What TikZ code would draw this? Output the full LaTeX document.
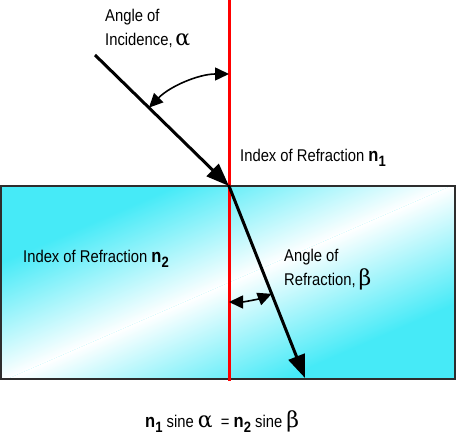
\documentclass[tikz,border=0pt]{standalone}
\usepackage{fontspec}
\setmainfont{Liberation Sans}[FakeStretch=0.87]
\newfontfamily\grk{DejaVu Serif}
\usetikzlibrary{arrows.meta}
\definecolor{glass}{RGB}{70,234,247}
\definecolor{edge}{RGB}{45,45,45}
\newcommand\myn[1]{{\bfseries\fontsize{19}{19}\selectfont n\raisebox{-4.5pt}{\fontsize{15}{15}\selectfont #1}}}
\newcommand\gk[1]{{\grk\fontsize{22}{22}\selectfont #1}}
\tikzset{
  lbl/.style={anchor=base west, inner sep=0pt, font=\fontsize{17}{17}\selectfont},
  ray/.style={line width=3pt, -{Triangle[length=23pt,width=17pt]}},
  angarrow/.style={line width=1.6pt, {Triangle[length=14pt,width=13pt]}-{Triangle[length=14pt,width=13pt]}},
  normline/.style={line width=3pt, draw=red}
}
\begin{document}
\begin{tikzpicture}[x=1pt,y=1pt]
\useasboundingbox (0,0) rectangle (456,439);
% glass block
\fill[glass] (1,60) rectangle (455,253);
\begin{scope}
  \clip (1,60) rectangle (455,253);
  \begin{scope}[transform canvas={rotate around={23.5:(228,156)}}]
    \shade[top color=glass, bottom color=white] (-300,156) rectangle (760,266);
    \shade[top color=white, bottom color=glass] (-300,46) rectangle (760,156);
  \end{scope}
\end{scope}
\draw[edge, line width=1.5pt] (1,60) rectangle (455,253);
% points
\coordinate (top) at (229,439);
\coordinate (bot) at (229,58);
\coordinate (O) at (229,253);
\coordinate (src) at (95,384);
\coordinate (dst) at (305,61);
\coordinate (a1) at (229,365);
\coordinate (b1) at (229,137);
% normal
\draw[normline] (top) -- (bot);
% rays
\draw[ray] (src) -- (O);
\draw[ray, shorten <=-1pt] (O) -- (dst);
% angle arcs
\draw[angarrow] (a1) arc[start angle=90, end angle=135.6, radius=112];
\draw[angarrow] (b1) arc[start angle=-90, end angle=-68.4, radius=116];
% labels
\node[lbl] (ai1) at (105,417) {Angle of};
\node[lbl] (ai2) at (105,393) {Incidence,\,\gk{α}};
\node[lbl] (n1) at (240,277) {Index of Refraction \myn{1}};
\node[lbl] (n2) at (23,176) {Index of Refraction \myn{2}};
\node[lbl] (ar1) at (284,177) {Angle of};
\node[lbl] (ar2) at (284,153) {Refraction,\,\gk{β}};
\node[lbl] (eq) at (145,11) {\myn{1} sine \gk{α}\ \ = \myn{2} sine \gk{β}};
\end{tikzpicture}
\end{document}
